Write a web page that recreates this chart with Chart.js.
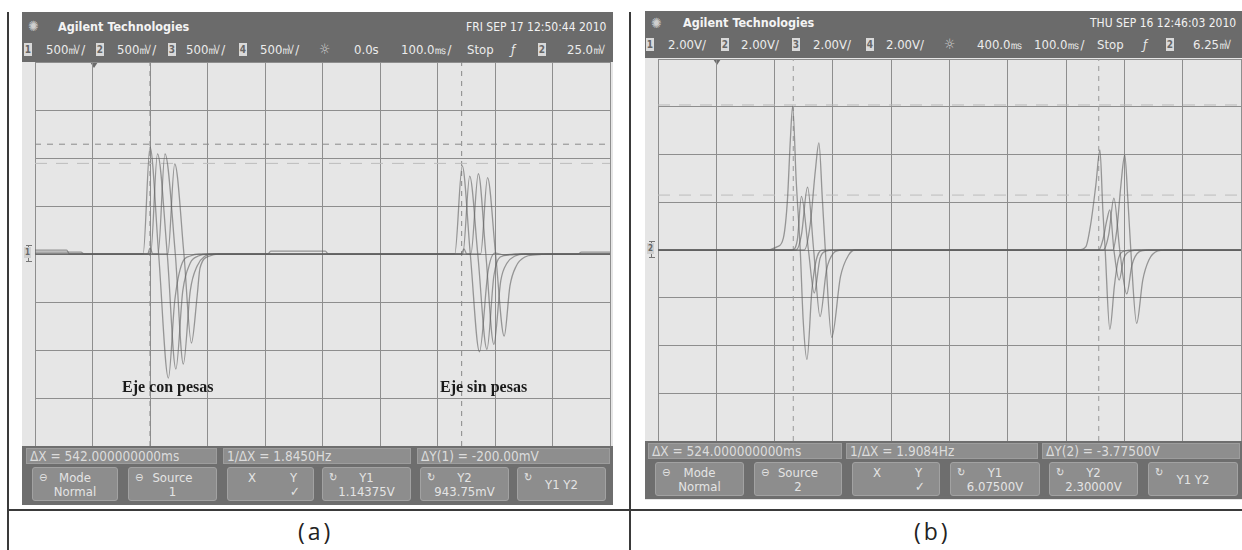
<!DOCTYPE html>
<html lang="es">
<head>
<meta charset="utf-8">
<title>Osciloscopio - eje con y sin pesas</title>
<script src="https://cdn.jsdelivr.net/npm/chart.js@4.4.1/dist/chart.umd.min.js"></script>
<style>
  html, body { margin: 0; padding: 0; background: #fff; }
  body { width: 1242px; height: 550px; position: relative; overflow: hidden;
         font-family: "Liberation Sans Narrow", "DejaVu Sans Condensed", "DejaVu Sans", sans-serif;
         font-stretch: condensed; }
  .a { position: absolute; white-space: nowrap; }
  .linea { position: absolute; background: #3a3a3a; }
  .pantalla { position: absolute; background: #e6e6e6; }
  .barra { position: absolute; background: #6b6b6b; }
  .t1 { color: #f2f2f2; font-size: 12px; line-height: 14px; }
  .marca { color: #f4f4f4; font-size: 12.5px; line-height: 14px; font-weight: bold; }
  .t2 { color: #ececec; font-size: 13px; line-height: 15px; }
  .caja { background: #d9d9d9; color: #666; font-size: 10px; font-weight: bold; line-height: 13px;
          width: 8px; height: 13px; text-align: center; font-family: "DejaVu Sans", sans-serif; }
  .sol { color: #cfcfcf; font-size: 14px; line-height: 15px; font-family: "DejaVu Sans", sans-serif; }
  .fila { position: absolute; background: #8e8e8e; border: 1px solid #9d9d9d; box-sizing: border-box;
          color: #dcdcdc; font-size: 13.5px; line-height: 14px; padding-left: 3px; }
  .boton { position: absolute; background: #8d8d8d; border: 1px solid #a2a2a2; border-radius: 3px;
           box-sizing: border-box; color: #e4e4e4; font-size: 13px; line-height: 14px; text-align: center; }
  .boton .ic { position: absolute; left: 6px; top: 3px; font-family: "DejaVu Sans", sans-serif; font-size: 11px; }
  .boton .tx { position: absolute; left: 0; right: 0; top: 3px; }
  .etq { position: absolute; font-family: "Liberation Serif", "DejaVu Serif", serif; font-weight: bold;
         font-size: 16px; color: #1a1a1a; white-space: nowrap; font-stretch: normal; }
  .pie { position: absolute; font-family: "Open Sans", "Noto Sans", sans-serif; font-size: 23px; color: #222;
         letter-spacing: 3px; font-stretch: normal; line-height: 30px; }
  canvas { display: block; }
</style>
</head>
<body>

<!-- marco -->
<div class="linea" style="left:7px; top:12px; width:2px; height:538px;"></div>
<div class="linea" style="left:629px; top:12px; width:2px; height:538px;"></div>
<div class="linea" style="left:7px; top:509px; width:1235px; height:2px;"></div>

<!-- ===== pantalla (a) ===== -->
<div class="pantalla" style="left:22px; top:12px; width:591px; height:493px;"></div>
<div class="barra" style="left:22px; top:12px; width:591px; height:50px;"></div>
<div class="a sol" style="left:28px; top:19px;">✺</div>
<div class="a marca" style="left:58px; top:20px;">Agilent Technologies</div>
<div class="a t1" style="left:466px; top:20px;">FRI SEP 17 12:50:44 2010</div>

<div class="a caja" style="left:24px; top:43px;">1</div>
<div class="a t2" style="left:46px; top:42px;">500㎷/</div>
<div class="a caja" style="left:96px; top:43px;">2</div>
<div class="a t2" style="left:117px; top:42px;">500㎷/</div>
<div class="a caja" style="left:168px; top:43px;">3</div>
<div class="a t2" style="left:186px; top:42px;">500㎷/</div>
<div class="a caja" style="left:239px; top:43px;">4</div>
<div class="a t2" style="left:260px; top:42px;">500㎷/</div>
<div class="a sol" style="left:319px; top:42px;">☼</div>
<div class="a t2" style="left:354px; top:42px;">0.0s</div>
<div class="a t2" style="left:401px; top:42px;">100.0㎳/</div>
<div class="a t2" style="left:467px; top:42px;">Stop</div>
<div class="a t2" style="left:511px; top:42px; font-style:italic;">ƒ</div>
<div class="a caja" style="left:538px; top:43px;">2</div>
<div class="a t2" style="left:567px; top:42px;">25.0㎷</div>
<div class="a" style="left:90px; top:62px; width:0; height:0; border-left:4px solid transparent; border-right:4px solid transparent; border-top:6px solid #6b6b6b;"></div>
<!-- marca de tierra -->
<div class="a" style="left:26px; top:245px; width:6px; height:1px; background:#777;"></div>
<div class="a" style="left:28px; top:245px; width:1px; height:17px; background:#777;"></div>
<div class="a" style="left:26px; top:261px; width:6px; height:1px; background:#777;"></div>
<div class="a caja" style="left:24px; top:247px; width:7px; height:11px; line-height:11px; font-size:8px; background:#cfcfcf;">1</div>

<div class="a" style="left:34px; top:61px; width:577px; height:386px;">
  <canvas id="graficoA" width="577" height="386"></canvas>
</div>
<div class="etq" style="left:122px; top:378px;">Eje con pesas</div>
<div class="etq" style="left:440px; top:378px;">Eje sin pesas</div>

<div class="barra" style="left:22px; top:446px; width:591px; height:59px; background:#6e6e6e;"></div>
<div class="fila" style="left:26px; top:448px; width:191px; height:16px;">ΔX = 542.000000000ms</div>
<div class="fila" style="left:223px; top:448px; width:188px; height:16px;">1/ΔX = 1.8450Hz</div>
<div class="fila" style="left:417px; top:448px; width:193px; height:16px;">ΔY(1) = -200.00mV</div>
<div class="boton" style="left:32px; top:467px; width:86px; height:34px;"><span class="ic">⊖</span><span class="tx">Mode<br>Normal</span></div>
<div class="boton" style="left:128px; top:467px; width:89px; height:34px;"><span class="ic">⊖</span><span class="tx">Source<br>1</span></div>
<div class="boton" style="left:227px; top:467px; width:87px; height:34px;"><span class="tx" style="text-align:left; padding-left:20px;">X<span style="position:absolute; left:62px;">Y<br>✓</span></span></div>
<div class="boton" style="left:322px; top:467px; width:89px; height:34px;"><span class="ic">↻</span><span class="tx">Y1<br>1.14375V</span></div>
<div class="boton" style="left:420px; top:467px; width:89px; height:34px;"><span class="ic">↻</span><span class="tx">Y2<br>943.75mV</span></div>
<div class="boton" style="left:517px; top:467px; width:89px; height:34px;"><span class="ic">↻</span><span class="tx" style="top:10px;">Y1 Y2</span></div>

<!-- ===== pantalla (b) ===== -->
<div class="pantalla" style="left:645px; top:11px; width:597px; height:489px;"></div>
<div class="barra" style="left:645px; top:11px; width:597px; height:47px;"></div>
<div class="a sol" style="left:651px; top:16px;">✺</div>
<div class="a marca" style="left:683px; top:16px;">Agilent Technologies</div>
<div class="a t1" style="left:1090px; top:16px;">THU SEP 16 12:46:03 2010</div>

<div class="a caja" style="left:646px; top:38px;">1</div>
<div class="a t2" style="left:668px; top:37px;">2.00V/</div>
<div class="a caja" style="left:721px; top:38px;">2</div>
<div class="a t2" style="left:741px; top:37px;">2.00V/</div>
<div class="a caja" style="left:792px; top:38px;">3</div>
<div class="a t2" style="left:813px; top:37px;">2.00V/</div>
<div class="a caja" style="left:866px; top:38px;">4</div>
<div class="a t2" style="left:886px; top:37px;">2.00V/</div>
<div class="a sol" style="left:944px; top:37px;">☼</div>
<div class="a t2" style="left:977px; top:37px;">400.0㎳</div>
<div class="a t2" style="left:1034px; top:37px;">100.0㎳/</div>
<div class="a t2" style="left:1097px; top:37px;">Stop</div>
<div class="a t2" style="left:1143px; top:37px; font-style:italic;">ƒ</div>
<div class="a caja" style="left:1166px; top:38px;">2</div>
<div class="a t2" style="left:1193px; top:37px;">6.25㎷</div>
<div class="a" style="left:713px; top:59px; width:0; height:0; border-left:4px solid transparent; border-right:4px solid transparent; border-top:6px solid #6b6b6b;"></div>
<div class="a" style="left:649px; top:241px; width:6px; height:1px; background:#777;"></div>
<div class="a" style="left:651px; top:241px; width:1px; height:17px; background:#777;"></div>
<div class="a" style="left:649px; top:257px; width:6px; height:1px; background:#777;"></div>
<div class="a caja" style="left:647px; top:243px; width:7px; height:11px; line-height:11px; font-size:8px; background:#cfcfcf;">2</div>

<div class="a" style="left:657px; top:58px; width:585px; height:384px;">
  <canvas id="graficoB" width="585" height="384"></canvas>
</div>

<div class="barra" style="left:645px; top:441px; width:597px; height:58px; background:#6e6e6e;"></div>
<div class="fila" style="left:648px; top:443px; width:194px; height:16px;">ΔX = 524.000000000ms</div>
<div class="fila" style="left:846px; top:443px; width:192px; height:16px;">1/ΔX = 1.9084Hz</div>
<div class="fila" style="left:1042px; top:443px; width:198px; height:16px;">ΔY(2) = -3.77500V</div>
<div class="boton" style="left:655px; top:462px; width:89px; height:34px;"><span class="ic">⊖</span><span class="tx">Mode<br>Normal</span></div>
<div class="boton" style="left:754px; top:462px; width:88px; height:34px;"><span class="ic">⊖</span><span class="tx">Source<br>2</span></div>
<div class="boton" style="left:852px; top:462px; width:88px; height:34px;"><span class="tx" style="text-align:left; padding-left:20px;">X<span style="position:absolute; left:62px;">Y<br>✓</span></span></div>
<div class="boton" style="left:950px; top:462px; width:90px; height:34px;"><span class="ic">↻</span><span class="tx">Y1<br>6.07500V</span></div>
<div class="boton" style="left:1049px; top:462px; width:89px; height:34px;"><span class="ic">↻</span><span class="tx">Y2<br>2.30000V</span></div>
<div class="boton" style="left:1148px; top:462px; width:90px; height:34px;"><span class="ic">↻</span><span class="tx" style="top:10px;">Y1 Y2</span></div>

<div class="pie" style="left:298px; top:516px;">(a)</div>
<div class="pie" style="left:914px; top:516px;">(b)</div>

<script>
// (a) 500 mV/div, 100 ms/div, retardo 0.0 s  -> puntos [ms, mV]
const ejeXa = [-500, 500, 100];
const ejeYa = [-2000, 2000, 500];
const canal1a = [[-500,40],[-445,40],[-440,0],[-312,0],[-300,1115],[-285,0],[-268,-1292],[-257,-490],[-244,-94],[-230,-21],[-215,0],
                 [230,0],[243,917],[257,0],[273,-1018],[288,-177],[300,10],[317,-10],[335,0],[500,0]];
const canal2a = [[-500,20],[-420,20],[-415,0],[-299,0],[-287,1042],[-270,0],[-255,-1198],[-243,-385],[-230,-94],[-216,-21],[-200,0],
                 [-95,0],[-90,30],[5,30],[10,0],[244,0],[256,812],[270,0],[286,-993],[298,-229],[309,-31],[326,-10],[345,0],[500,0]];
const canal3a = [[-500,0],[-304,0],[-300,62],[-295,0],[-286,0],[-274,1042],[-256,0],[-242,-1146],[-230,-385],[-218,-125],[-204,-21],[-190,0],
                 [241,0],[246,52],[251,0],[258,0],[271,836],[284,0],[298,-941],[310,-281],[321,-94],[335,-21],[350,0],[500,0]];
const canal4a = [[-500,0],[-269,0],[-257,938],[-241,0],[-228,-927],[-218,-437],[-213,-146],[-196,-21],[-182,0],
                 [275,0],[287,795],[301,0],[316,-854],[326,-333],[337,-125],[352,-31],[370,-10],[390,0],[445,0],[450,20],[500,20]];
const cursoresA = { x1: -300, x2: 242, y1: 1143.75, y2: 943.75 };

// (b) 2.00 V/div, 100 ms/div, retardo 400 ms  -> puntos [ms, V]
const ejeXb = [-100, 900, 100];
const ejeYb = [-8, 8, 2];
const canal1b = [[-100,0],[84,0],[104,0.13],[115,0.5],[122,2.09],[127,4.61],[131,6.03],[137,2.93],[144,0],[149,-2.93],[155.5,-4.58],
                 [164,-1.68],[173,-0.28],[184,0],[622,0],[634,0.14],[642,1.05],[651,2.72],[658,4.19],[663,1.68],[667,0],[675,-3.32],
                 [683,-1.47],[690,-0.34],[701,-0.04],[715,0],[900,0]];
const canal2b = [[-100,0],[130,0],[139,0.42],[146,2.25],[158,0],[168,-1.8],[178,-0.34],[189,-0.04],[200,0],
                 [656,0],[663,0.42],[670,1.26],[675,1.68],[682,0],[691,-1.26],[699,-0.34],[711,-0.04],[725,0],[900,0]];
const canal3b = [[-100,0],[137,0],[146,0.63],[156.5,2.63],[167,0],[178,-2.79],[189,-0.84],[201,-0.13],[215,0],
                 [664,0],[673,0.63],[682,2.17],[692,0],[704,-1.84],[713,-0.63],[725,-0.08],[740,0],[900,0]];
const canal4b = [[-100,0],[151,0],[161,1.05],[170,3.35],[176,4.49],[182,2.09],[187,0],[198,-3.66],[213,-1.12],[227,-0.21],[238,0],
                 [680,0],[687,0.84],[694,2.72],[700.6,3.98],[706,2.09],[711,0],[721,-3.07],[731.5,-1.26],[742,-0.42],[757,-0.04],[770,0],[900,0]];
const cursoresB = { x1: 132, x2: 656, y1: 6.075, y2: 2.3 };

function lineaCursor(puntos, color, guion) {
    return { data: puntos, borderColor: color, borderWidth: 1, borderDash: guion, pointRadius: 0, tension: 0 };
}

function dibujarPantalla(id, canales, cur, ejeX, ejeY, estilos) {
    const datasets = canales.map(c => ({
        data: c.map(p => ({ x: p[0], y: p[1] })),
        borderColor: 'rgba(95,95,95,0.6)',
        borderWidth: 1.3,
        pointRadius: 0,
        cubicInterpolationMode: 'monotone'
    }));
    datasets.push(lineaCursor([{ x: ejeX[0], y: cur.y1 }, { x: ejeX[1], y: cur.y1 }], estilos.y1[0], estilos.y1[1]));
    datasets.push(lineaCursor([{ x: ejeX[0], y: cur.y2 }, { x: ejeX[1], y: cur.y2 }], estilos.y2[0], estilos.y2[1]));
    datasets.push(lineaCursor([{ x: cur.x1, y: ejeY[0] }, { x: cur.x1, y: ejeY[1] }], estilos.x[0], estilos.x[1]));
    datasets.push(lineaCursor([{ x: cur.x2, y: ejeY[0] }, { x: cur.x2, y: ejeY[1] }], estilos.x[0], estilos.x[1]));

    return new Chart(document.getElementById(id), {
        type: 'line',
        data: { datasets },
        options: {
            responsive: false,
            devicePixelRatio: 1,
            animation: false,
            layout: { padding: 1 },
            plugins: { legend: { display: false }, tooltip: { enabled: false } },
            scales: {
                x: {
                    type: 'linear', min: ejeX[0], max: ejeX[1],
                    ticks: { display: false, stepSize: ejeX[2] },
                    grid: { color: '#8e8e8e', lineWidth: 1, drawTicks: false },
                    border: { display: false }
                },
                y: {
                    type: 'linear', min: ejeY[0], max: ejeY[1],
                    ticks: { display: false, stepSize: ejeY[2] },
                    grid: { color: '#8e8e8e', lineWidth: 1, drawTicks: false },
                    border: { display: false }
                }
            }
        }
    });
}

dibujarPantalla('graficoA', [canal1a, canal2a, canal3a, canal4a], cursoresA, ejeXa, ejeYa, {
    y1: ['#8a8a8a', [6, 6]], y2: ['#bcbcbc', [12, 9]], x: ['#888888', [5, 5]]
});
dibujarPantalla('graficoB', [canal1b, canal2b, canal3b, canal4b], cursoresB, ejeXb, ejeYb, {
    y1: ['#b8b8b8', [12, 9]], y2: ['#bcbcbc', [12, 9]], x: ['#999999', [5, 5]]
});
</script>
</body>
</html>
